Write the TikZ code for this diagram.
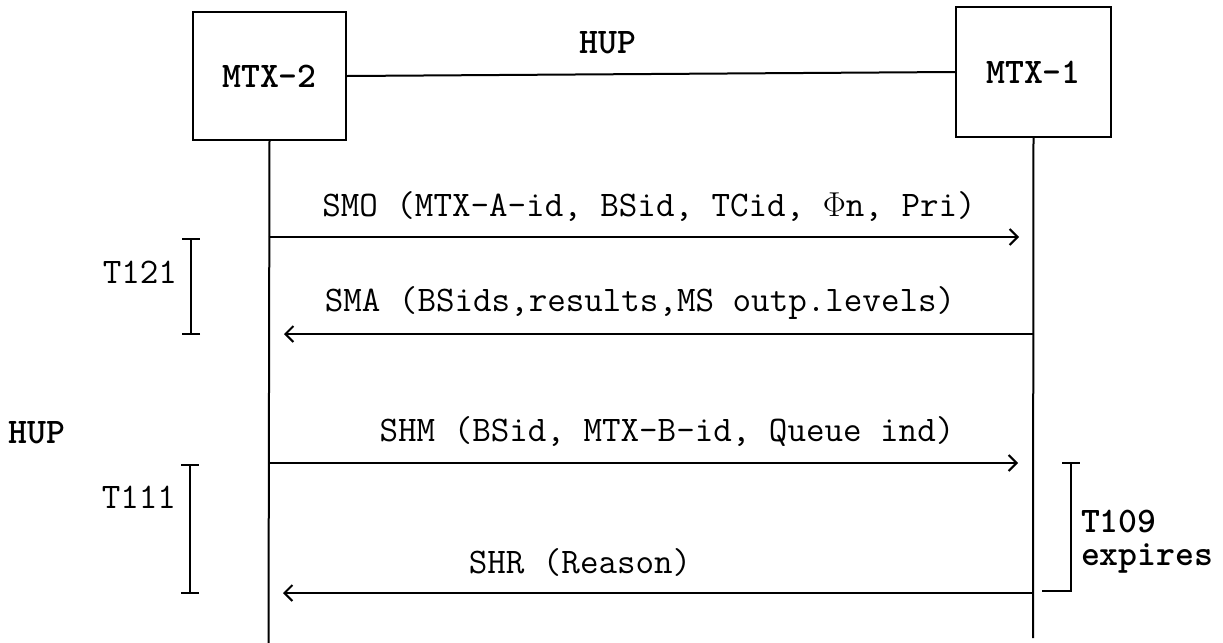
\documentclass[tikz,border=0pt]{standalone}
\usepackage{fontspec}
\usetikzlibrary{arrows.meta}
\begin{document}
\begin{tikzpicture}[x=0.5pt,y=-0.5pt, line width=1pt,
  txt/.style={font=\fontsize{18}{21}\selectfont\ttfamily, inner sep=0pt},
  btxt/.style={font=\fontsize{18}{21}\selectfont\ttfamily\bfseries, inner sep=0pt},
  box/.style={draw, line width=1.2pt, btxt},
  msg/.style={-{Straight Barb[length=4pt,width=8pt]}},
  timer/.style={{Bar[width=9pt]}-{Bar[width=9pt]}},
  ]
\useasboundingbox (0,0) rectangle (1223,643);
% entities
\node[box, minimum width=76.5pt, minimum height=64pt] (m2) at (269.5,76) {MTX-2};
\node[box, minimum width=77.5pt, minimum height=65pt] (m1) at (1033.5,72) {MTX-1};
\draw (m2.east) -- (m1.west);
\node[btxt] (hup) at (608,43) {HUP};
% lifelines
\coordinate (l2e) at (268.5,643);
\coordinate (l1e) at (1033,638);
\draw (m2.south) -- (l2e);
\draw (m1.south) -- (l1e);
% messages
\coordinate (s1a) at (268.5,237); \coordinate (s1b) at (1019,237);
\draw[msg] (s1a) -- (s1b);
\node[txt] (smo) at (649,207) {SMO (MTX-A-id, BSid, TCid, $\Phi$n, Pri)};
\coordinate (s2a) at (1033,334); \coordinate (s2b) at (284,334);
\draw[msg] (s2a) -- (s2b);
\node[txt] (sma) at (640,303) {SMA (BSids,results,MS outp.levels)};
\coordinate (s3a) at (268.5,463); \coordinate (s3b) at (1018,463);
\draw[msg] (s3a) -- (s3b);
\node[txt] (shm) at (667,432) {SHM (BSid, MTX-B-id, Queue ind)};
\coordinate (s4a) at (1033,593); \coordinate (s4b) at (283,593);
\draw[msg] (s4a) -- (s4b);
\node[txt] (shr) at (580,562) {SHR (Reason)};
% timers
\coordinate (t121a) at (191,238); \coordinate (t121b) at (191,335);
\draw[timer] (t121a) -- (t121b);
\node[txt, anchor=east] (t121) at (178,272) {T121};
\coordinate (t111a) at (190,464); \coordinate (t111b) at (190,594);
\draw[timer] (t111a) -- (t111b);
\node[txt, anchor=east] (t111) at (177,497) {T111};
\node[btxt] (hup2) at (37,433) {HUP};
\coordinate (t109a) at (1071,462); \coordinate (t109b) at (1071,591); \coordinate (t109c) at (1042,591);
\draw[{Bar[width=9pt]}-] (t109a) -- (t109b) -- (t109c);
\node[btxt, anchor=west, align=left, font=\fontsize{18}{16.5}\selectfont\ttfamily\bfseries] (t109) at (1080,542) {T109\\expires};
\end{tikzpicture}
\end{document}
